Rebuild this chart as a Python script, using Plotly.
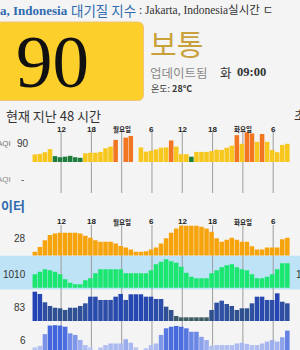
import plotly.graph_objects as go

W, H = 300, 350

# ---------------- data ----------------
tick_labels = ["12", "18", "월요일", "6", "12", "18", "화요일", "6"]
first_tick = 5.2      # bar-slot position of the first tick (hour 12)
tick_step = 6         # hours between ticks

aqi = [52, 54, 60, 71, 46, 42, 44, 47, 42, 40, 56, 58, 58, 61, 74, 80, 104, None, 112, 118,
       None, 77, 62, 65, 70, 76, 77, 102, 80, 53, 53, 44, 61, 61, 61, 64, 69, 68, 76, 83,
       121, 90, 131, 127, 97, 125, 97, 68, 60, 86, 90]
temp = [24.1, 25.6, 27.6, 29.2, 29.7, 29.9, 29.9, 29.9, 29.9, 29.7, 29.0, 28.4, 27.6, 27.2, 27.2,
        27.2, 26.6, 25.9, 25.4, 24.8, 24.1, 24.1, 24.3, 24.8, 25.4, 26.6, 28.2, 29.9, 31.2, 32.0,
        32.0, 32.0, 32.0, 31.7, 31.2, 30.2, 28.2, 27.2, 27.8, 28.4, 27.8, 27.2, 27.2, 25.8, 24.8,
        24.8, 25.4, 25.4, 25.4, 27.9, 28.4]
pressure = [1007.7, 1008.2, 1008.7, 1008.5, 1008.2, 1007.7, 1006.7, 1006.0, 1005.7, 1005.7,
            1006.5, 1006.9, 1007.9, 1008.7, 1008.7, 1008.7, 1008.7, 1008.7, 1007.9, 1007.9,
            1007.9, 1007.9, 1007.9, 1008.5, 1009.7, 1010.2, 1010.7, 1010.3, 1010.0, 1009.2,
            1008.0, 1007.2, 1006.9, 1006.9, 1006.9, 1007.9, 1008.5, 1009.1, 1009.5, 1009.7,
            1009.1, 1008.7, 1008.5, 1007.7, 1006.9, 1006.9, 1007.2, 1007.7, 1008.7, 1009.9, 1009.9]
humidity = [97.6, 94.8, 84.4, 79.8, 77.6, 76.9, 74.8, 77.6, 77.6, 79.8, 83.1, 91.4, 91.4, 87.3,
            87.3, 87.3, 91.4, 94.8, 87.3, 94.4, 94.4, 94.4, 91.4, 91.4, 88.5, 88.5, 78.9, 74.8,
            67.3, 65.6, 65.6, 65.6, 65.6, 65.6, 65.6, 74.8, 83.9, 86.4, 82.3, 79.8, 74.8, 76.9,
            76.9, 83.1, 91.4, 91.4, 87.3, 87.3, 95.6, 85.1, 83.1]
wind = [1.7, 2.1, 5.1, 7.3, 7.4, 7.3, 7.0, 5.3, 4.9, 3.6, 2.3, 1.7, 1.0, 1.7, 2.3, 2.7, 2.7, 2.7,
        3.8, 2.9, 1.7, 1.0, 1.5, 2.3, 2.7, 4.9, 6.6, 7.0, 7.2, 7.0, 6.6, 5.7, 5.7, 4.4, 3.6, 2.1,
        2.3, 2.3, 2.3, 2.3, 2.7, 2.9, 2.6, 2.3, 2.3, 2.7, 3.2, 3.6, 3.2, 4.3, 6.0]
slots = list(range(len(temp)))

current_aqi = "90"
current_vals = ["28", "1010", "83", "6"]

# ---------------- helpers ----------------
def px(x):
    return x / W

def py(y):
    return 1 - y / H

def aqi_color(v):
    if v is None:
        return "rgba(0,0,0,0)"
    if v <= 50:
        return "#1E7D3C"
    if v <= 100:
        return "#F7C71E"
    return "#F27622"

FONT_SANS = "Liberation Sans, Noto Sans CJK KR"
FONT_KR = "Noto Sans CJK KR"
FONT_SERIF = "Liberation Serif, Noto Sans CJK KR"
BLUE = "#2F6BAE"

fig = go.Figure()
fig.add_trace(go.Bar(x=slots, y=aqi, marker=dict(color=[aqi_color(v) for v in aqi], line_width=0),
                     xaxis="x", yaxis="y"))
fig.add_trace(go.Bar(x=slots, y=temp, marker=dict(color="#F6A30C", line_width=0), xaxis="x", yaxis="y2"))
fig.add_trace(go.Bar(x=slots, y=pressure, marker=dict(color="#1BE66F", line_width=0), xaxis="x", yaxis="y3"))
fig.add_trace(go.Bar(x=slots, y=humidity,
                     marker=dict(color=humidity, cmin=64, cmax=98, line_width=0,
                                 colorscale=[[0, "#3F5F5A"], [0.3, "#30518A"], [0.65, "#2E4FA6"], [1, "#2143B6"]]),
                     xaxis="x", yaxis="y4"))
fig.add_trace(go.Bar(x=slots, y=wind,
                     marker=dict(color=wind, cmin=1, cmax=7.5, line_width=0,
                                 colorscale=[[0, "#C4CEF5"], [0.45, "#97AAED"], [1, "#3F63DC"]]),
                     xaxis="x", yaxis="y5"))

# x scale: 5.05 px per slot, slot -0.5 at 32.3 px
ppu = 5.05
x0 = -0.5 - 32.3 / ppu
x1 = x0 + W / ppu

def yax(top, bottom, lo, scale):
    hi = lo + (bottom - top) / scale
    return dict(domain=[py(bottom), py(top)], range=[lo, hi], visible=False, anchor="x", fixedrange=True)

ticks = [first_tick + tick_step * k for k in range(len(tick_labels))]

shapes = []
# yellow AQI box with rounded right corners
r = 6
bx0, bx1, by0, by1 = -10, 143.5, 22, 100.5
path = (f"M {px(bx0)} {py(by0)} L {px(bx1 - r)} {py(by0)} Q {px(bx1)} {py(by0)} {px(bx1)} {py(by0 + r)} "
        f"L {px(bx1)} {py(by1 - r)} Q {px(bx1)} {py(by1)} {px(bx1 - r)} {py(by1)} L {px(bx0)} {py(by1)} Z")
shapes.append(dict(type="path", path=path, xref="paper", yref="paper", fillcolor="#FDCF2B",
                   line=dict(color="#F2C27A", width=1), layer="below"))
# light-blue band behind pressure row
shapes.append(dict(type="rect", xref="paper", yref="paper", x0=0, x1=1, y0=py(289.5), y1=py(255.7),
                   fillcolor="#BFE3F6", line_width=0, layer="below"))
for t in ticks:
    shapes.append(dict(type="line", xref="x", yref="paper", x0=t, x1=t, y0=py(193), y1=py(131.5),
                       line=dict(color="#9C9C9C", width=1), layer="below"))
    shapes.append(dict(type="line", xref="x", yref="paper", x0=t, x1=t, y0=0, y1=py(225),
                       line=dict(color="#9C9C9C", width=1), layer="below"))

ann = []
def A(text, x, y, size, color, family=FONT_SANS, xanchor="left", xref="paper"):
    ann.append(dict(text=text, x=(px(x) if xref == "paper" else x), y=py(y), xref=xref, yref="paper",
                    xanchor=xanchor, yanchor="middle", showarrow=False, borderpad=0,
                    font=dict(size=size, color=color, family=family)))

# header line
A("<b>a, Indonesia</b>", -1, 10, 13, BLUE, FONT_SERIF)
A("대기질 지수", 70, 10, 13.5, BLUE, FONT_KR)
A(": Jakarta, Indonesia실시간 ㄷ", 138, 10, 11.5, "#333333", FONT_SERIF)
# big AQI
A(current_aqi, 52.5, 62, 73, "#111111", FONT_SERIF, xanchor="center")
A("보통", 149, 43, 29, "#C9A13A", FONT_KR)
A("업데이트됨", 149, 72, 12.5, "#8A8A8A", FONT_KR)
A("화", 219, 72, 12.5, "#333333", FONT_KR)
A("<b>09:00</b>", 236, 72, 12.5, "#333333", FONT_SERIF)
A("온도: <b>28°C</b>", 150, 89, 9, "#333333", FONT_KR)
# section headings
A("현재 지난 48 시간", 5, 116, 13, "#333333", FONT_KR)
A("초", 293, 114, 13, "#333333", FONT_KR)
A("AQI", 12, 143, 8, "#777777", FONT_SANS, xanchor="right")
A(current_aqi, 16, 143, 10, "#333333")
A("AQI", 12, 180, 8, "#888888", FONT_SANS, xanchor="right")
A("-", 20, 180, 10, "#555555")
A("<b>이터</b>", 0, 205, 13, BLUE, FONT_KR)
# current values
for label, yc in zip(current_vals, [238, 274, 307, 340]):
    A(label, 27.5, yc, 10, "#333333", xanchor="right")
A(current_vals[1], 295, 274, 10, "#333333")
# time ticks
for t, lab in zip(ticks, tick_labels):
    isnum = lab.isdigit()
    for yc in (129, 222):
        A(f"<b>{lab}</b>", t, yc, 8 if isnum else 6.5, "#222222",
          FONT_SANS if isnum else FONT_KR, xanchor="center", xref="x")

fig.update_layout(
    width=W, height=H, margin=dict(l=0, r=0, t=0, b=0),
    paper_bgcolor="#F4F4F4", plot_bgcolor="rgba(0,0,0,0)",
    showlegend=False, bargap=0.1,
    xaxis=dict(range=[x0, x1], visible=False, domain=[0, 1], fixedrange=True),
    yaxis=yax(131, 162, 25, 0.28),
    yaxis2=yax(224, 255.5, 23, 3.3),
    yaxis3=yax(257.5, 287.7, 1005, 5),
    yaxis4=yax(290, 321, 61, 0.8),
    yaxis5=yax(322, 350, 1.03, 3.9),
    shapes=shapes, annotations=ann,
)

fig.write_html("out.html", config={"displayModeBar": False})
